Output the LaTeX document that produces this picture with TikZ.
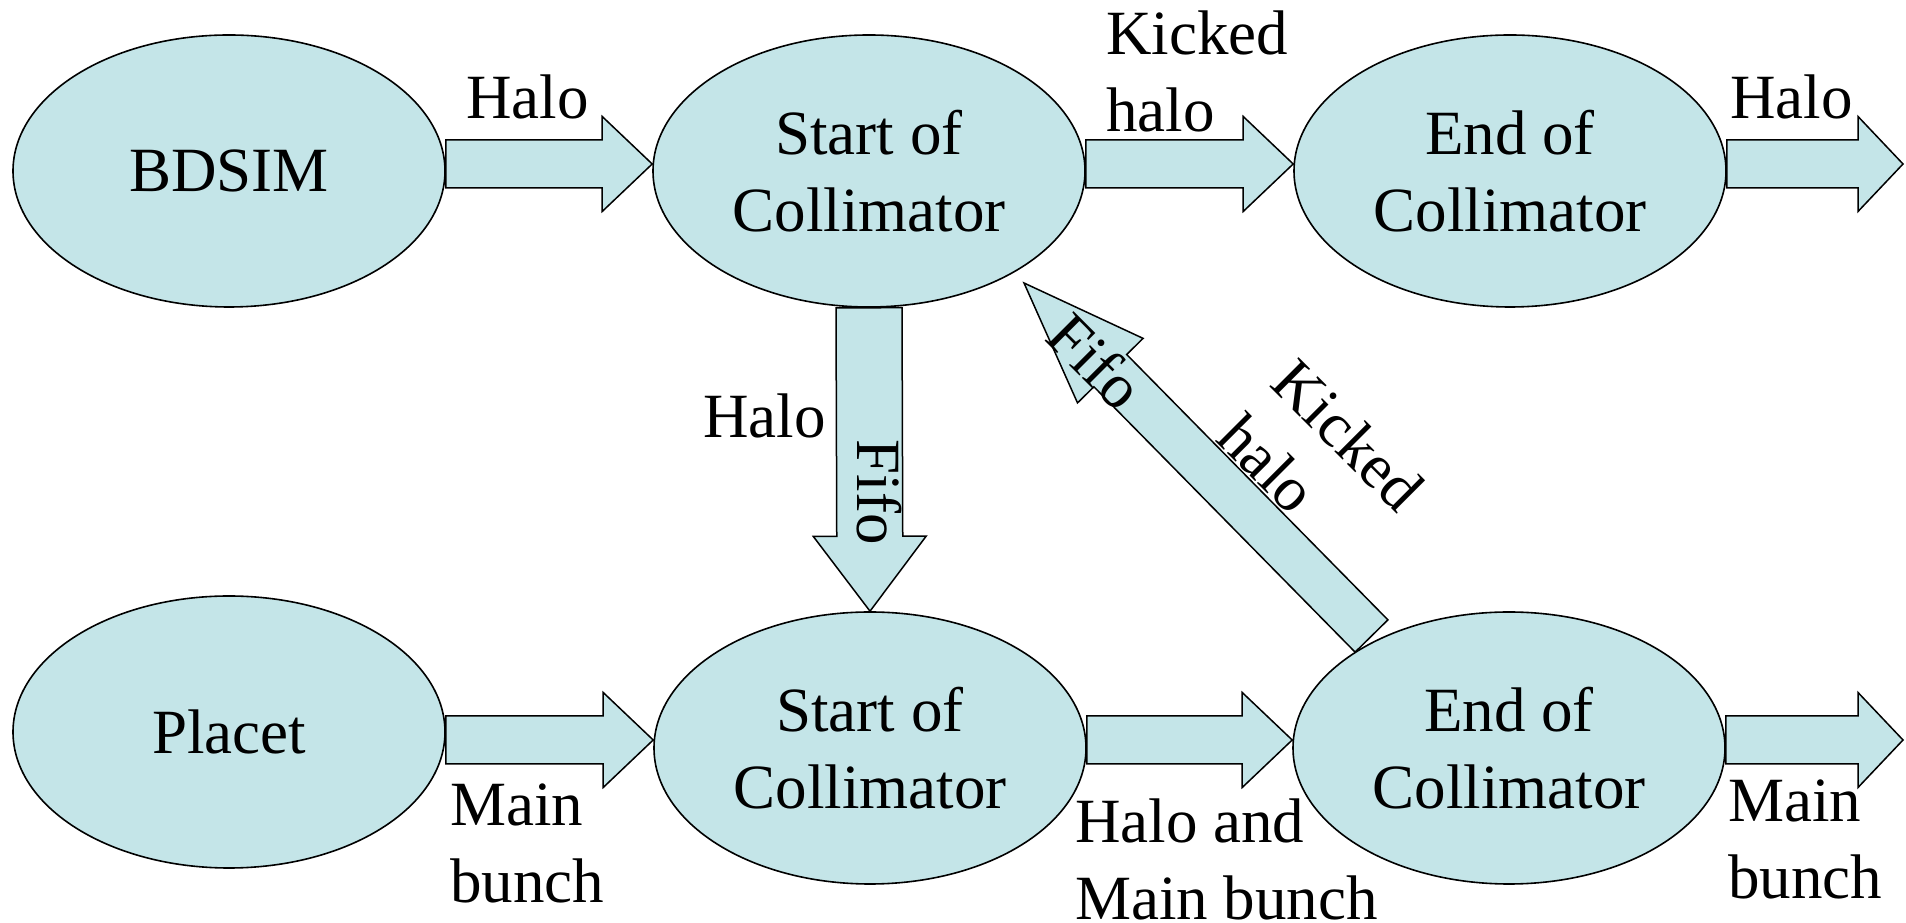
\documentclass[tikz,border=0pt]{standalone}
\usepackage{fontspec}
\setmainfont{Liberation Serif}
\usetikzlibrary{shapes.geometric,calc}
\definecolor{fillblue}{RGB}{196,229,232}
\newcommand\BArrow[6]{%
  \coordinate (#6-t) at #1;
  \coordinate (#6-h) at #2;
  \coordinate (#6-b) at ($(#6-h)!#5!(#6-t)$);
  \draw[barrow] ($(#6-t)!#3!90:(#6-h)$) -- ($(#6-b)!#3!-90:(#6-t)$) -- ($(#6-b)!#4!-90:(#6-t)$) -- (#6-h)
     -- ($(#6-b)!#4!90:(#6-t)$) -- ($(#6-b)!#3!90:(#6-t)$) -- ($(#6-t)!#3!-90:(#6-h)$) -- cycle;
}
\begin{document}
\begin{tikzpicture}[x=1pt,y=1pt,
  every node/.style={font=\fontsize{63}{77}\selectfont},
  proc/.style={ellipse, draw=black, line width=1.6pt, fill=fillblue, minimum width=432pt, minimum height=272pt, inner sep=0pt, align=center},
  barrow/.style={draw=black, line width=1.5pt, fill=fillblue, line join=miter},
  lbl/.style={inner sep=0pt, align=left}]
\useasboundingbox[fill=white] (0,0) rectangle (1906,923);
% processes
\node[proc] (bdsim)  at (229,752) {BDSIM};
\node[proc] (start1) at (869,752) {Start of\\Collimator};
\node[proc] (end1)   at (1510,752) {End of\\Collimator};
\node[proc] (placet) at (229,191) {Placet};
\node[proc] (start2) at (870,175) {Start of\\Collimator};
\node[proc] (end2)   at (1509,175) {End of\\Collimator};
\coordinate (out1) at (1903,759);
\coordinate (out2) at (1903,183);
% block arrows
\BArrow{($(bdsim.east)+(0,7)$)}{($(start1.west)+(0,7)$)}{24pt}{47.5pt}{50pt}{a1}
\BArrow{($(start1.east)+(0,7)$)}{($(end1.west)+(0,7)$)}{24pt}{47.5pt}{50pt}{a2}
\BArrow{($(end1.east)+(0,7)$)}{(out1)}{24pt}{47.5pt}{45pt}{a3}
\BArrow{($(placet.east)+(0,-8)$)}{($(start2.west)+(0,8)$)}{24pt}{47.5pt}{50pt}{a4}
\BArrow{($(start2.east)+(0,8)$)}{($(end2.west)+(0,8)$)}{24pt}{47.5pt}{50pt}{a5}
\BArrow{($(end2.east)+(0,8)$)}{(out2)}{24pt}{47.5pt}{45pt}{a6}
\BArrow{(start1.south)}{(start2.north)}{33pt}{56.5pt}{75pt}{v}
\BArrow{($(end2.center)+(-137.5,112)$)}{($(start1.center)+(155,-112)$)}{23pt}{46pt}{123pt}{d}
% labels
\node[lbl, anchor=base west] (l1) at (466,804) {Halo};
\node[lbl, anchor=west] (l2) at (1106,851.5) {Kicked\\halo};
\node[lbl, anchor=base west] (l3) at (1730,804) {Halo};
\node[lbl, anchor=base west] (l4) at (703,485) {Halo};
\node[lbl, rotate=-90] (l5) at (879.5,431) {Fifo};
\node[lbl, rotate=-45] (l6) at (1096,562) {Fifo};
\node[lbl, rotate=-45] (l7) at (1321,461) {Kicked\\halo};
\node[lbl, anchor=west] (l8) at (450,79.5) {Main\\bunch};
\node[lbl, anchor=west] (l9) at (1075,63.5) {Halo and\\Main bunch};
\node[lbl, anchor=west] (l10) at (1728,83.5) {Main\\bunch};
\end{tikzpicture}
\end{document}
